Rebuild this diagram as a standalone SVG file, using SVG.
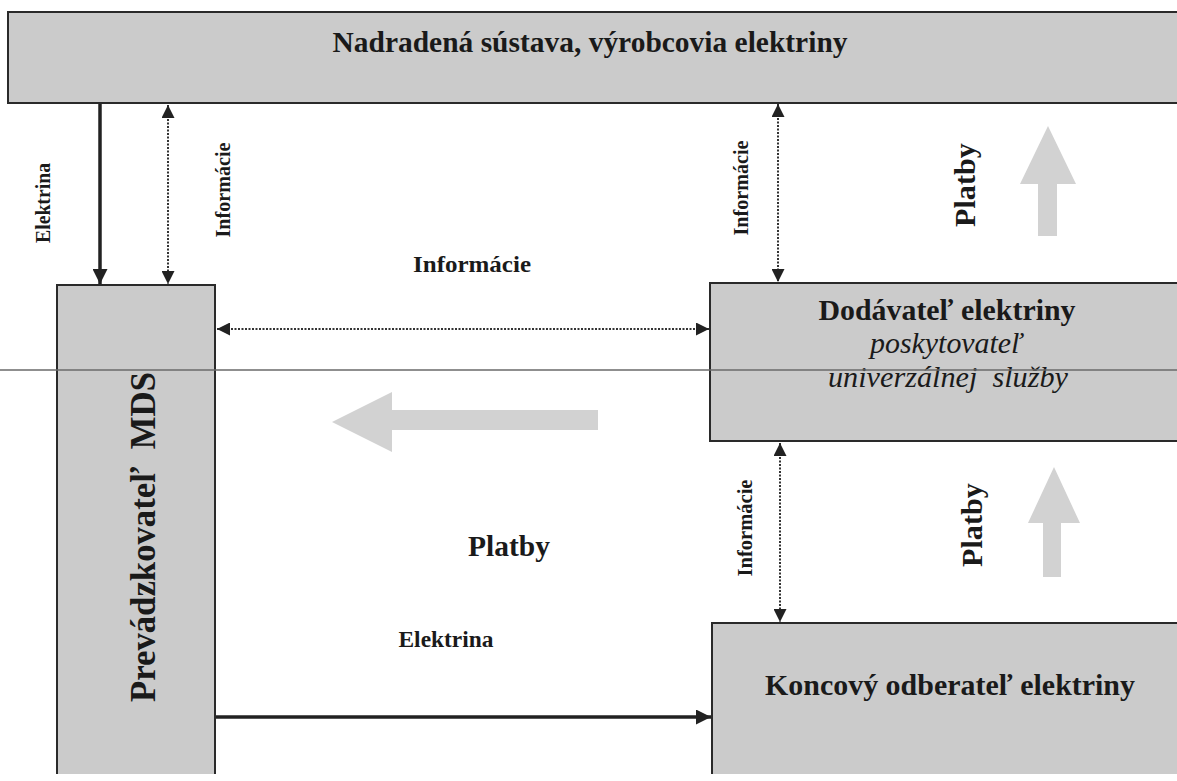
<svg xmlns="http://www.w3.org/2000/svg" width="1177" height="781" viewBox="0 0 1177 781">
<defs>
<style>
.box{fill:#cbcbcb;stroke:#2a2a2a;stroke-width:2}
.fill{fill:#cbcbcb;stroke:none}
.edge{fill:none;stroke:#2a2a2a;stroke-width:2}
.t{font-family:"Liberation Serif","Times New Roman",serif;font-weight:bold;fill:#1a1a1a}
.it{font-family:"Liberation Serif","Times New Roman",serif;font-style:italic;fill:#1a1a1a}
.solid{stroke:#222;stroke-width:3.5;fill:none}
.dot{stroke:#333;stroke-width:2;stroke-dasharray:2 1.5;fill:none}
.big{fill:#d2d2d2}
</style>
<marker id="ah" viewBox="0 0 10 10" refX="10" refY="5" markerWidth="13" markerHeight="13" markerUnits="userSpaceOnUse" orient="auto-start-reverse">
<path d="M0,0 L10,5 L0,10 z" fill="#222"/>
</marker>
<marker id="ahs" viewBox="0 0 10 10" refX="10" refY="5" markerWidth="17" markerHeight="15" markerUnits="userSpaceOnUse" orient="auto">
<path d="M0,0 L10,5 L0,10 z" fill="#222"/>
</marker>
</defs>
<rect width="1177" height="781" fill="#ffffff"/>

<g id="node-nadradena">
<rect class="box" x="8" y="12" width="1175" height="91"/>
<text class="t" x="590" y="52" font-size="29" text-anchor="middle" textLength="515" lengthAdjust="spacingAndGlyphs">Nadradená sústava, výrobcovia elektriny</text>
</g>

<g id="node-prevadzkovatel">
<rect class="fill" x="57" y="285" width="158" height="489"/>
<path d="M57,774 L57,285 L215,285 L215,774" class="edge"/>
<text class="t" transform="translate(155,537) rotate(-90)" font-size="36" text-anchor="middle" textLength="330" lengthAdjust="spacingAndGlyphs">Prevádzkovateľ&#160; MDS</text>
</g>

<g id="node-dodavatel">
<rect class="box" x="710" y="283" width="475" height="158"/>
<text class="t" x="947" y="320" font-size="29" text-anchor="middle" textLength="257" lengthAdjust="spacingAndGlyphs">Dodávateľ elektriny</text>
<text class="it" x="946" y="353" font-size="29" text-anchor="middle" textLength="152" lengthAdjust="spacingAndGlyphs">poskytovateľ</text>
<text class="it" x="948" y="387" font-size="29" text-anchor="middle" textLength="240" lengthAdjust="spacingAndGlyphs">univerzálnej&#160; služby</text>
</g>

<g id="node-koncovy">
<rect class="fill" x="712" y="623" width="470" height="151"/>
<path d="M712,774 L712,623 L1185,623" class="edge"/>
<text class="t" x="950" y="695" font-size="29" text-anchor="middle" textLength="370" lengthAdjust="spacingAndGlyphs">Koncový odberateľ elektriny</text>
</g>

<g id="connectors">
<line class="solid" x1="100" y1="104" x2="100" y2="284" marker-end="url(#ahs)"/>
<line class="dot" x1="168" y1="105" x2="168" y2="284" marker-start="url(#ah)" marker-end="url(#ah)"/>
<line class="dot" x1="778" y1="104" x2="778" y2="282" marker-start="url(#ah)" marker-end="url(#ah)"/>
<line class="dot" x1="217" y1="329" x2="709" y2="329" marker-start="url(#ah)" marker-end="url(#ah)"/>
<line class="dot" x1="780" y1="443" x2="780" y2="622" marker-start="url(#ah)" marker-end="url(#ah)"/>
<line class="solid" x1="216" y1="717" x2="711" y2="717" marker-end="url(#ahs)"/>
<polygon class="big" points="1048,126 1076,184 1057,184 1057,236 1038,236 1038,184 1020,184"/>
<polygon class="big" points="1054,467 1080,523 1061,523 1061,577 1043,577 1043,523 1028,523"/>
<polygon class="big" points="332,422 392,392 392,410 598,410 598,430 392,430 392,452"/>
</g>

<g id="labels">
<text class="t" transform="translate(50,203) rotate(-90)" font-size="20" text-anchor="middle" textLength="80" lengthAdjust="spacingAndGlyphs">Elektrina</text>
<text class="t" transform="translate(230,190) rotate(-90)" font-size="20" text-anchor="middle" textLength="95" lengthAdjust="spacingAndGlyphs">Informácie</text>
<text class="t" transform="translate(748,188) rotate(-90)" font-size="20" text-anchor="middle" textLength="95" lengthAdjust="spacingAndGlyphs">Informácie</text>
<text class="t" transform="translate(975,185) rotate(-90)" font-size="30" text-anchor="middle" textLength="84" lengthAdjust="spacingAndGlyphs">Platby</text>
<text class="t" transform="translate(752,528) rotate(-90)" font-size="20" text-anchor="middle" textLength="97" lengthAdjust="spacingAndGlyphs">Informácie</text>
<text class="t" transform="translate(982,525) rotate(-90)" font-size="30" text-anchor="middle" textLength="84" lengthAdjust="spacingAndGlyphs">Platby</text>
<text class="t" x="472" y="272" font-size="24" text-anchor="middle" textLength="118" lengthAdjust="spacingAndGlyphs">Informácie</text>
<text class="t" x="509" y="556" font-size="30" text-anchor="middle" textLength="82" lengthAdjust="spacingAndGlyphs">Platby</text>
<text class="t" x="446" y="647" font-size="23" text-anchor="middle" textLength="95" lengthAdjust="spacingAndGlyphs">Elektrina</text>
</g>

<line id="scan-line" x1="0" y1="370" x2="1177" y2="370" stroke="#6a6a6a" stroke-width="1.5"/>
</svg>
